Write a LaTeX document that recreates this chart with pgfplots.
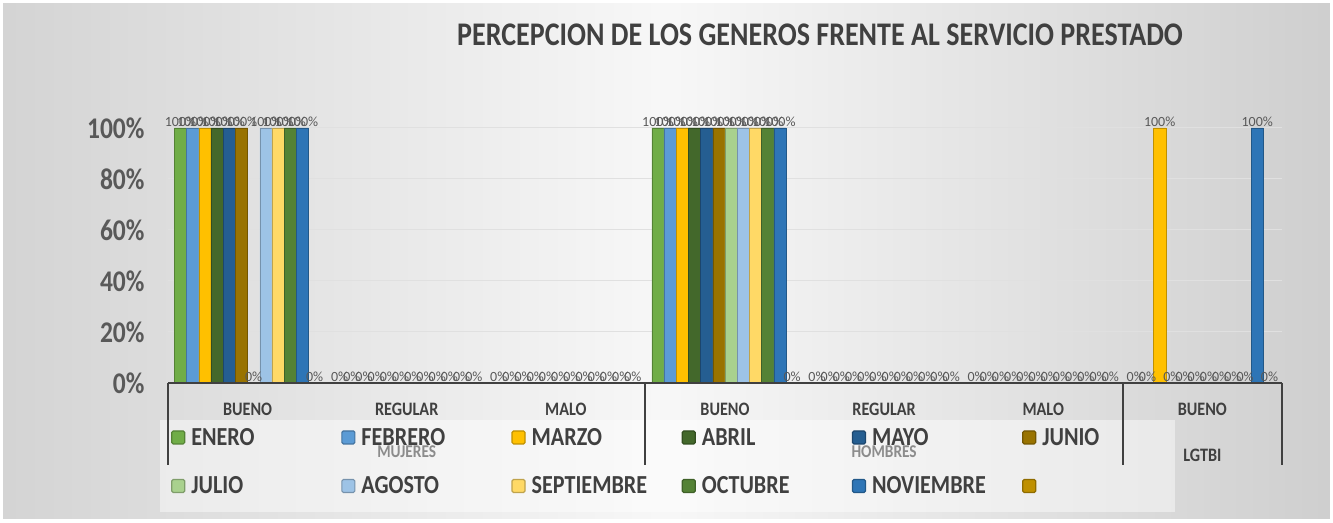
\documentclass[border=0pt]{standalone}
\usepackage{pgfplots}
\pgfplotsset{compat=1.18}
\usepackage{pgfplotstable}
\usepackage{fontspec}
\setmainfont{Carlito}
\newfontfamily\cond[FakeStretch=0.85]{Carlito}
\definecolor{cENE}{HTML}{70AD47}
\definecolor{cFEB}{HTML}{5B9BD5}
\definecolor{cMAR}{HTML}{FFC000}
\definecolor{cABR}{HTML}{43682B}
\definecolor{cMAY}{HTML}{255E91}
\definecolor{cJUN}{HTML}{997300}
\definecolor{cJUL}{HTML}{A9D18E}
\definecolor{cAGO}{HTML}{9DC3E6}
\definecolor{cSEP}{HTML}{FFD966}
\definecolor{cOCT}{HTML}{548235}
\definecolor{cNOV}{HTML}{2E75B6}
\definecolor{cDIC}{HTML}{BF9000}
\definecolor{txt}{HTML}{404040}
\definecolor{lbl}{HTML}{595959}
\pgfplotstableread{
cat ENE FEB MAR ABR MAY JUN JUL AGO SEP OCT NOV DIC
0 100 100 100 100 100 100 0 100 100 100 100 0
1 0 0 0 0 0 0 0 0 0 0 0 0
2 0 0 0 0 0 0 0 0 0 0 0 0
3 100 100 100 100 100 100 100 100 100 100 100 0
4 0 0 0 0 0 0 0 0 0 0 0 0
5 0 0 0 0 0 0 0 0 0 0 0 0
6 0 0 100 0 0 0 0 0 0 0 100 0
}\datatable
\begin{document}
\begin{tikzpicture}[x=1pt,y=1pt]
\shade[left color=black!17, right color=black!19, middle color=white!97!black] (0,0) rectangle (1333,522);
\draw[white,line width=6pt] (0,0) rectangle (1333,522);
\fill[white, opacity=0.45] (160,10) rectangle (1175,102);
\begin{axis}[
  at={(168pt,139pt)}, anchor=south west,
  scale only axis, width=1114pt, height=255pt,
  ybar=0pt, bar width=12.2pt,
  xmin=-0.5, xmax=6.5, ymin=0, ymax=100,
  clip=false,
  axis line style={draw=none},
  xtick={0,...,6},
  xticklabels={BUENO,REGULAR,MALO,BUENO,REGULAR,MALO,BUENO},
  xticklabel style={font=\cond\fontsize{19}{21}\selectfont\bfseries, text=txt, yshift=-17pt},
  major tick length=0pt,
  ytick={0,20,...,100},
  yticklabels={0\%,20\%,40\%,60\%,80\%,100\%},
  yticklabel style={font=\cond\fontsize{30}{32}\selectfont\bfseries, text=lbl, xshift=-20pt},
  ymajorgrids, grid style={draw=black!12, line width=1pt},
  nodes near coords={\pgfmathprintnumber[fixed,precision=0,assume math mode=true]{\pgfplotspointmeta}\%},
  nodes near coords style={font=\fontsize{14}{15}\selectfont, text=lbl, inner sep=1pt},
  legend columns=6,
  legend style={at={(axis description cs:-0.001,-0.145)}, anchor=north west,
    draw=none, fill=none,
    font=\cond\fontsize{26}{28}\selectfont\bfseries, text=txt,
    row sep=26pt, inner xsep=4pt, inner ysep=6pt,
    /tikz/every odd column/.append style={column sep=4pt}},
  legend cell align=left,
  legend image code/.code={\draw[#1, rounded corners=1.5pt, line width=1.2pt] (0pt,-6.5pt) rectangle (13pt,6.5pt);},
]
\addplot[fill=cENE, draw=cENE!75!black] table[x=cat,y=ENE]{\datatable};
\addplot[fill=cFEB, draw=cFEB!75!black] table[x=cat,y=FEB]{\datatable};
\addplot[fill=cMAR, draw=cMAR!75!black] table[x=cat,y=MAR]{\datatable};
\addplot[fill=cABR, draw=cABR!75!black] table[x=cat,y=ABR]{\datatable};
\addplot[fill=cMAY, draw=cMAY!75!black] table[x=cat,y=MAY]{\datatable};
\addplot[fill=cJUN, draw=cJUN!75!black] table[x=cat,y=JUN]{\datatable};
\addplot[fill=cJUL, draw=cJUL!75!black] table[x=cat,y=JUL]{\datatable};
\addplot[fill=cAGO, draw=cAGO!75!black] table[x=cat,y=AGO]{\datatable};
\addplot[fill=cSEP, draw=cSEP!75!black] table[x=cat,y=SEP]{\datatable};
\addplot[fill=cOCT, draw=cOCT!75!black] table[x=cat,y=OCT]{\datatable};
\addplot[fill=cNOV, draw=cNOV!75!black] table[x=cat,y=NOV]{\datatable};
\addplot[fill=cDIC, draw=cDIC!75!black] table[x=cat,y=DIC]{\datatable};
\addlegendentry{\makebox[148pt][l]{ENERO}}
\addlegendentry{\makebox[148pt][l]{FEBRERO}}
\addlegendentry{\makebox[148pt][l]{MARZO}}
\addlegendentry{\makebox[148pt][l]{ABRIL}}
\addlegendentry{\makebox[148pt][l]{MAYO}}
\addlegendentry{\makebox[148pt][l]{JUNIO}}
\addlegendentry{\makebox[148pt][l]{JULIO}}
\addlegendentry{\makebox[148pt][l]{AGOSTO}}
\addlegendentry{\makebox[148pt][l]{SEPTIEMBRE}}
\addlegendentry{\makebox[148pt][l]{OCTUBRE}}
\addlegendentry{\makebox[148pt][l]{NOVIEMBRE}}
\addlegendentry{\makebox[148pt][l]{}}
% x axis line and multi-level category frame
\draw[txt, line width=2pt] (axis cs:-0.5,0) -- (axis cs:6.5,0);
\draw[txt, line width=2pt] (axis cs:-0.5,0) -- ([yshift=-82pt]axis cs:-0.5,0);
\draw[txt, line width=2pt] (axis cs:2.5,0) -- ([yshift=-82pt]axis cs:2.5,0);
\draw[txt, line width=2pt] (axis cs:5.5,0) -- ([yshift=-82pt]axis cs:5.5,0);
\draw[txt, line width=2pt] (axis cs:6.5,0) -- ([yshift=-82pt]axis cs:6.5,0);
\node[font=\cond\fontsize{18}{20}\selectfont\bfseries, text=black!45] at ([yshift=-69pt]axis cs:1,0) {MUJERES};
\node[font=\cond\fontsize{18}{20}\selectfont\bfseries, text=black!45] at ([yshift=-69pt]axis cs:4,0) {HOMBRES};
\node[font=\cond\fontsize{19}{21}\selectfont\bfseries, text=txt] at ([yshift=-72pt]axis cs:6,0) {LGTBI};
\end{axis}
\node[font=\cond\fontsize{33}{35}\selectfont\bfseries, text=txt] at (820,487) {PERCEPCION DE LOS GENEROS FRENTE AL SERVICIO PRESTADO};
\pgfresetboundingbox
\useasboundingbox (0,0) rectangle (1333,522);
\end{tikzpicture}
\end{document}
